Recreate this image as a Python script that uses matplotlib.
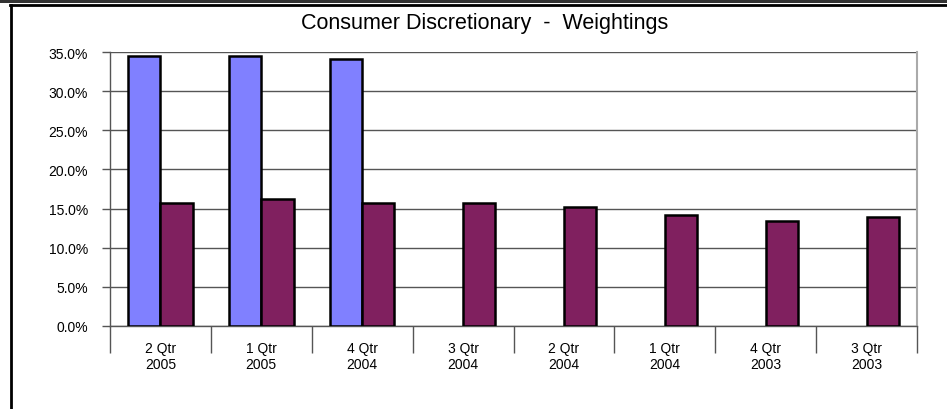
import matplotlib
matplotlib.use('Agg')
import matplotlib.pyplot as plt
import matplotlib.patches as mpatches
from matplotlib.lines import Line2D
import numpy as np

plt.rcParams['font.family'] = ['Liberation Sans', 'DejaVu Sans']

categories = ['2 Qtr\n2005', '1 Qtr\n2005', '4 Qtr\n2004', '3 Qtr\n2004',
              '2 Qtr\n2004', '1 Qtr\n2004', '4 Qtr\n2003', '3 Qtr\n2003']
series_blue = [34.5, 34.5, 34.15, None, None, None, None, None]
series_purple = [15.7, 16.2, 15.7, 15.7, 15.2, 14.2, 13.45, 13.95]
yticks = [0, 5, 10, 15, 20, 25, 30, 35]
title = 'Consumer Discretionary  -  Weightings'

W, H = 947, 410
fig = plt.figure(figsize=(W / 100, H / 100), dpi=100)
ax = fig.add_axes([110 / W, 1 - 326.7 / H, (917 - 110) / W, (326.7 - 53.3) / H])

x = np.arange(len(categories))
bw = 0.32
bx = [xi - bw / 2 for xi, v in zip(x, series_blue) if v is not None]
bv = [v for v in series_blue if v is not None]
ax.bar(bx, bv, width=bw, color='#8080FF', edgecolor='black', linewidth=1.8, zorder=3)
ax.bar(x + bw / 2, series_purple, width=bw, color='#80205F', edgecolor='black',
       linewidth=1.8, zorder=3)

ax.set_xlim(-0.5, len(categories) - 0.5)
ax.set_ylim(0, 35)
ax.set_yticks(yticks)
ax.set_yticklabels(['%.1f%%' % t for t in yticks], fontsize=10)
ax.yaxis.grid(True, color='#555555', linewidth=1.0, zorder=0)
ax.tick_params(axis='y', length=6, width=1, color='#555555', pad=10)

# category boundaries as long tick marks, labels at centers
ax.set_xticks(np.arange(len(categories) + 1) - 0.5)
ax.set_xticklabels([])
ax.tick_params(axis='x', which='major', length=19.5, width=1, color='#555555')
ax.set_xticks(x, minor=True)
ax.set_xticklabels(categories, minor=True, fontsize=10, linespacing=1.2)
ax.tick_params(axis='x', which='minor', length=0, pad=11)

for s in ['left', 'bottom']:
    ax.spines[s].set_color('#555555')
    ax.spines[s].set_linewidth(1.0)
ax.spines['top'].set_visible(False)
ax.spines['right'].set_color('#aaaaaa')
ax.spines['right'].set_linewidth(1.5)

fig.text(485 / W, 1 - 23 / H, title, fontsize=15.5, ha='center', va='center')

# outer frame (top and left edges)
fig.add_artist(mpatches.Rectangle((0, 1 - 4 / H), 1, 4 / H, transform=fig.transFigure,
                                  color='#333333', lw=0))
fig.add_artist(Line2D([10 / W, 1], [1 - 5.5 / H, 1 - 5.5 / H], transform=fig.transFigure,
                      color='black', linewidth=2))
fig.add_artist(Line2D([11 / W, 11 / W], [0, 1 - 5.5 / H], transform=fig.transFigure,
                      color='black', linewidth=2))

fig.savefig('out.png', dpi=100)
